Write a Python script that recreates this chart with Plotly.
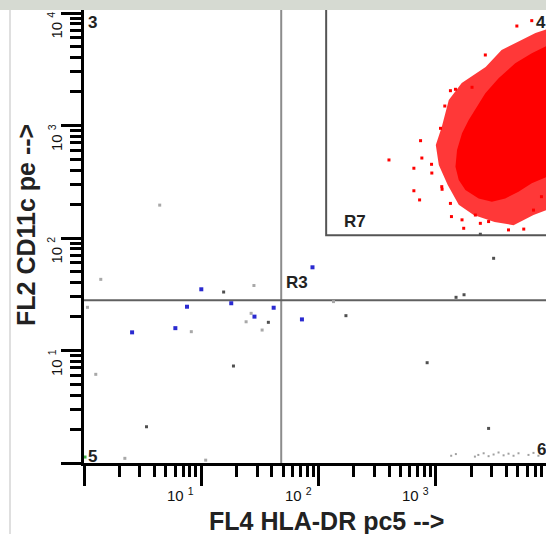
import math
import plotly.graph_objects as go

# ---------------- data ----------------
x_major = [1, 10, 100, 1000]
y_major = [1, 10, 100, 1000, 10000]
x_exponents = [1, 2, 3, 4]
y_exponents = [1, 2, 3, 4]

quad_x = 48      # vertical quadrant marker on FL4
quad_y = 28      # horizontal quadrant marker on FL2
r7_x0 = 116      # R7 gate lower-left corner
r7_y0 = 106

# dense core of the red population (outline)
core_x = [12000, 6565, 4745, 3422, 2638, 2239, 1903, 1670, 1514, 1468, 1566, 1784, 2314, 3004, 3902, 5060, 6565, 12000]
core_y = [6000, 4385, 3572, 2628, 1933, 1469, 1119, 853, 606, 430, 328, 267, 225, 210, 225, 258, 306, 400]
# sparser fringe of the red population (outline)
fringe_x = [12000, 7060, 5370, 3630, 2655, 1660, 1288, 1122, 998, 1059, 1262, 1566, 2099, 3164, 4590, 6790, 12000]
fringe_y = [8000, 6640, 5755, 4690, 3311, 2387, 1686, 970, 671, 445, 296, 197, 160, 139, 130, 160, 200]
# isolated red events
red_x = [4900, 6565, 2638, 398, 740, 649, 649, 726, 1129, 1357, 1726, 4160, 5610, 1330, 1468, 2032, 1191, 759, 918,
         1094, 923, 1122, 1330, 1670, 2170, 2393, 2813, 6790, 7940]
red_y = [7660, 8550, 4235, 494, 733, 417, 263, 218, 271, 155, 122, 118, 120, 2039, 2098, 2186, 1490, 514, 452,
         944, 378, 286, 203, 145, 160, 135, 140, 177, 233]

blue_x = [88.7, 10.0, 18.0, 7.55, 41.4, 28.4, 72.1, 6.01, 2.57]
blue_y = [54.9, 35.0, 26.3, 24.5, 24.0, 20.0, 18.9, 15.8, 14.5]

dark_x = [15.5, 18.8, 171, 3.41, 842, 2813, 3105, 1485, 1737, 2393, 37.3]
dark_y = [33.1, 7.28, 20.4, 2.10, 7.79, 2.03, 66.0, 29.7, 31.3, 108, 17.8]

light_x = [24.1, 33.0, 26.6, 8.22, 134, 1.39, 28.1, 1.26, 1.07, 4.42, 2.23, 10.9]
light_y = [18.0, 15.2, 21.4, 14.7, 27.2, 42.9, 37.8, 6.14, 24.2, 196, 1.10, 1.06]

faint_x = [1350, 1480, 2150, 2300, 2553, 2813, 3103, 3420, 3776, 4160, 4590, 5060, 6155, 6790, 7480]
faint_y = [1.16, 1.20, 1.14, 1.18, 1.22, 1.15, 1.19, 1.24, 1.17, 1.21, 1.16, 1.22, 1.18, 1.23, 1.16]

green_x = [1.02]
green_y = [1.13]

# ---------------- layout geometry ----------------
W, H = 546, 534
L, R, T, B = 84, 0, 10, 71
PW, PH = W - L - R, H - T - B
X_DEC, Y_DEC = 117.3, 112.5          # pixels per decade
x_range = [0, PW / X_DEC]
y_range = [0, PH / Y_DEC]


def px(xp):
    return (xp - L) / PW


def py(yp):
    return (H - B - yp) / PH


minor_x = [m * d for d in x_major for m in range(2, 10)]
minor_y = [m * d for d in y_major[:-1] for m in range(2, 10)]

FONT = "Liberation Sans, Arial, sans-serif"

fig = go.Figure()

fig.add_trace(go.Scatter(x=fringe_x, y=fringe_y, mode="lines", fill="toself",
                         fillcolor="rgba(255,0,0,0.78)", line=dict(width=0), hoverinfo="skip"))
fig.add_trace(go.Scatter(x=core_x, y=core_y, mode="lines", fill="toself",
                         fillcolor="#ff0000", line=dict(width=0), hoverinfo="skip"))
fig.add_trace(go.Scatter(x=red_x, y=red_y, mode="markers",
                         marker=dict(symbol="square", size=3, color="#ff0000", line=dict(width=0))))
fig.add_trace(go.Scatter(x=faint_x, y=faint_y, mode="markers",
                         marker=dict(symbol="square", size=2, color="#a0a0a0", line=dict(width=0))))
fig.add_trace(go.Scatter(x=light_x, y=light_y, mode="markers",
                         marker=dict(symbol="square", size=3, color="#a8a8a8", line=dict(width=0))))
fig.add_trace(go.Scatter(x=dark_x, y=dark_y, mode="markers",
                         marker=dict(symbol="square", size=3, color="#505050", line=dict(width=0))))
fig.add_trace(go.Scatter(x=blue_x, y=blue_y, mode="markers",
                         marker=dict(symbol="square", size=4, color="#2a2ad0", line=dict(width=0))))
fig.add_trace(go.Scatter(x=green_x, y=green_y, mode="markers",
                         marker=dict(symbol="square", size=3, color="#40b040", line=dict(width=0))))

shapes = [
    # quadrant markers
    dict(type="line", xref="x", yref="paper", x0=quad_x, x1=quad_x, y0=0, y1=1,
         line=dict(color="#8c8c8c", width=2), layer="below"),
    dict(type="line", xref="paper", yref="y", x0=0, x1=1, y0=quad_y, y1=quad_y,
         line=dict(color="#606060", width=2), layer="below"),
    # R7 gate
    dict(type="rect", xref="x", yref="y", x0=r7_x0, x1=1e5, y0=r7_y0, y1=1e5,
         line=dict(color="#555555", width=2), layer="below"),
    # window chrome: top band and left border
    dict(type="rect", xref="paper", yref="paper", x0=px(0), x1=px(W), y0=py(T), y1=py(0),
         fillcolor="#d6dad2", line=dict(width=0), layer="above"),
    dict(type="line", xref="paper", yref="paper", x0=px(10), x1=px(10), y0=py(H), y1=py(T),
         line=dict(color="#d4d4d4", width=1.5)),
]

ann = []
tick_font = dict(family=FONT, size=15, color="#111111")
for d, e in zip(x_major[1:] + [10000], x_exponents):
    ann.append(dict(x=math.log10(d), y=py(495), xref="x", yref="paper", text=f"10 <sup>{e}</sup>",
                    showarrow=False, xanchor="right", yanchor="middle", xshift=-5, font=tick_font))
for d, e in zip(y_major[1:], y_exponents):
    ann.append(dict(x=px(55), y=math.log10(d), xref="paper", yref="y", text=f"10 <sup>{e}</sup>",
                    showarrow=False, xanchor="center", yanchor="top", yshift=3, textangle=-90,
                    font=tick_font))

lab_font = dict(family=FONT, size=17, color="#222222", weight="bold")
ann += [
    dict(x=px(86), y=py(11), xref="paper", yref="paper", text="3", showarrow=False,
         xanchor="left", yanchor="top", font=lab_font),
    dict(x=px(548), y=py(11), xref="paper", yref="paper", text="4", showarrow=False,
         xanchor="right", yanchor="top", font=lab_font),
    dict(x=px(86), y=py(468), xref="paper", yref="paper", text="5", showarrow=False,
         xanchor="left", yanchor="bottom", font=lab_font),
    dict(x=px(548), y=py(461), xref="paper", yref="paper", text="6", showarrow=False,
         xanchor="right", yanchor="bottom", font=lab_font),
    dict(x=math.log10(r7_x0), y=math.log10(r7_y0), xref="x", yref="y", text="R7", showarrow=False,
         xanchor="left", yanchor="bottom", xshift=16, yshift=2, font=lab_font),
    dict(x=math.log10(quad_x), y=math.log10(quad_y), xref="x", yref="y", text="R3", showarrow=False,
         xanchor="left", yanchor="bottom", xshift=3, yshift=6, font=lab_font),
    dict(x=px(326), y=py(521), xref="paper", yref="paper", text="FL4 HLA-DR pc5 -->", showarrow=False,
         xanchor="center", yanchor="middle",
         font=dict(family=FONT, size=25, color="#222222", weight="bold")),
    dict(x=px(26), y=py(225), xref="paper", yref="paper", text="FL2 CD11c pe -->", showarrow=False,
         xanchor="center", yanchor="middle", textangle=-90,
         font=dict(family=FONT, size=25, color="#222222", weight="bold")),
]

axis_common = dict(type="log", showgrid=False, zeroline=False, showline=True, linecolor="black",
                   linewidth=3, ticks="outside", ticklen=20, tickwidth=3, tickcolor="black",
                   tickmode="array", showticklabels=False, fixedrange=True)

fig.update_layout(
    width=W, height=H, margin=dict(l=L, r=R, t=T, b=B, pad=0),
    paper_bgcolor="white", plot_bgcolor="white", showlegend=False,
    xaxis=dict(range=x_range, tickvals=x_major,
               minor=dict(tickmode="array", tickvals=minor_x, ticks="outside", ticklen=11,
                          tickwidth=3, tickcolor="black"), **axis_common),
    yaxis=dict(range=y_range, tickvals=y_major,
               minor=dict(tickmode="array", tickvals=minor_y, ticks="outside", ticklen=11,
                          tickwidth=3, tickcolor="black"), **axis_common),
    shapes=shapes, annotations=ann,
)

fig.write_html("out.html")
